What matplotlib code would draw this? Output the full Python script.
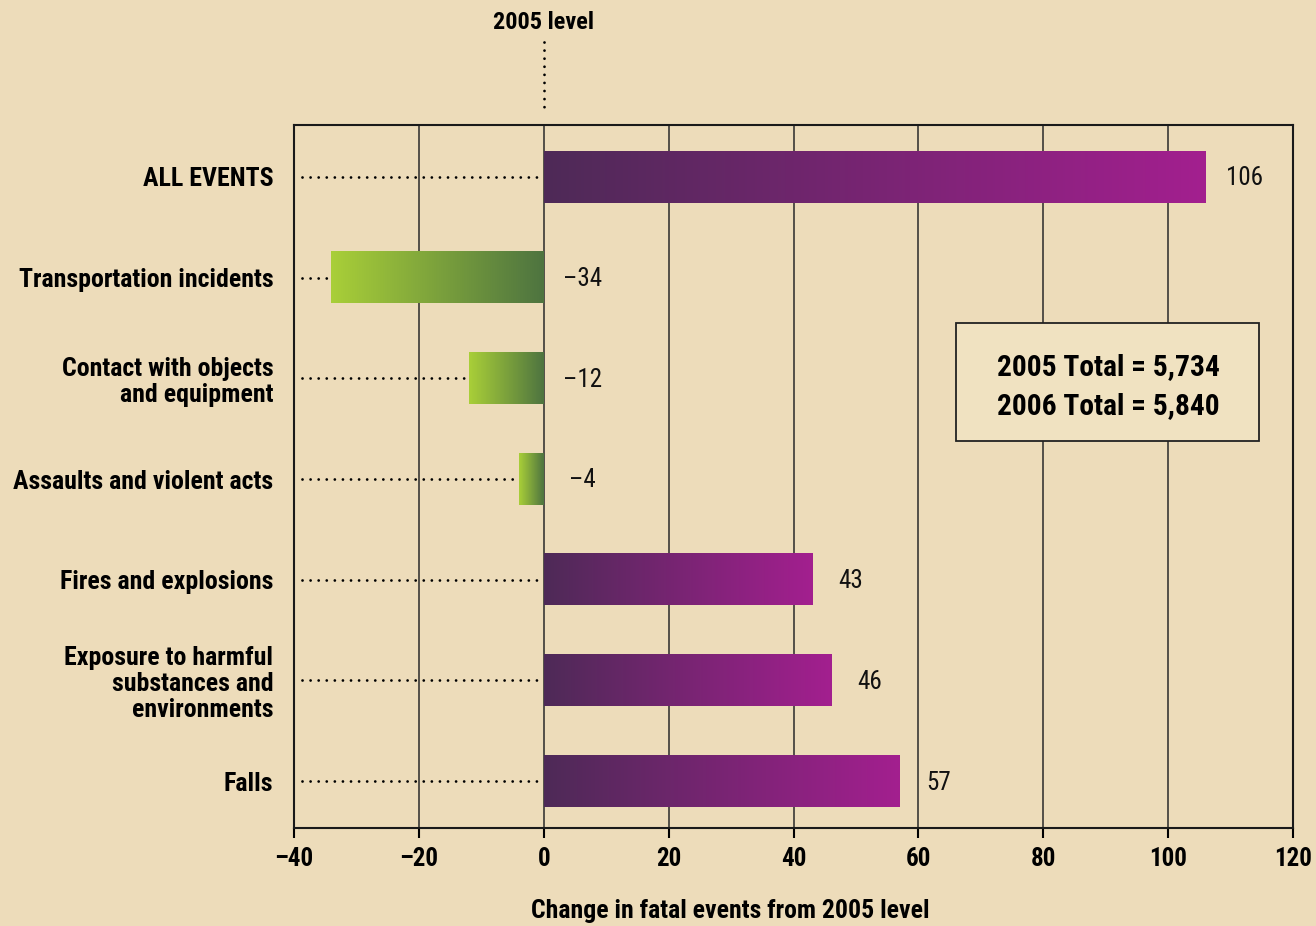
import os
import matplotlib
matplotlib.use("Agg")
import matplotlib.pyplot as plt
import numpy as np
from matplotlib.colors import LinearSegmentedColormap
from matplotlib import font_manager
from matplotlib.font_manager import FontProperties
from matplotlib.textpath import TextPath
from matplotlib.patches import Rectangle

categories = ["ALL EVENTS", "Transportation incidents", "Contact with objects\nand equipment",
              "Assaults and violent acts", "Fires and explosions",
              "Exposure to harmful\nsubstances and\nenvironments", "Falls"]
values = [106, -34, -12, -4, 43, 46, 57]
value_labels = ["106", "\u201334", "\u201312", "\u20134", "43", "46", "57"]
xticks = [-40, -20, 0, 20, 40, 60, 80, 100, 120]
xtick_labels = ["\u201340", "\u201320", "0", "20", "40", "60", "80", "100", "120"]
box_lines = ["2005 Total = 5,734", "2006 Total = 5,840"]
xlabel = "Change in fatal events from 2005 level"
level_label = "2005 level"


# ---- font selection: prefer a condensed/narrow sans ----
def pick_font(bold):
    prefs = ["Roboto", "Liberation", "DejaVuSans", "NotoSans", "OpenSans", ""]
    cands = []
    for f in font_manager.fontManager.ttflist:
        base = os.path.basename(f.fname)
        if not ("ondensed" in base or "Narrow" in base):
            continue
        if any(k in base for k in ("Italic", "Oblique", "Mono", "CJK", "Light", "Thin",
                                   "Black", "Extra", "Semi", "Medium")):
            continue
        isbold = "Bold" in base
        if isbold != bold:
            continue
        for rank, p in enumerate(prefs):
            if p in base.replace(" ", ""):
                cands.append((rank, base, f.fname))
                break
    if cands:
        cands.sort()
        return FontProperties(fname=cands[0][2])
    for fam in ["Liberation Sans", "Roboto", "DejaVu Sans"]:
        fp = FontProperties(family=fam, weight="bold" if bold else "normal")
        try:
            path = font_manager.findfont(fp, fallback_to_default=False)
            return FontProperties(fname=path)
        except Exception:
            pass
    return FontProperties(weight="bold" if bold else "normal")


FB = pick_font(True)
FR = pick_font(False)
DPI = 100


def fit(text, fp, target_px, nominal):
    w = TextPath((0, 0), text, size=20, prop=fp).get_extents().width
    px_per_pt = (w / 20.0) * DPI / 72.0
    return min(nominal, target_px / px_per_pt)


s_cat = fit("Transportation incidents", FB, 254, 19)
s_xl = fit(xlabel, FB, 395, 19)
s_tick = fit("\u201340", FB, 36, 19)
s_val = fit("106", FR, 35, 18)
s_box = fit(box_lines[0], FB, 221, 23)
s_lvl = fit(level_label, FB, 103, 17.5)


def fp(base, size):
    p = base.copy()
    p.set_size(size)
    return p


BG = "#EDDCBA"
purple = LinearSegmentedColormap.from_list("p", ["#4E2A57", "#A31F8F"])
green = LinearSegmentedColormap.from_list("g", ["#A9CF38", "#4E7440"])
DOT = (0, (0.01, 2.9))
DOT_LW = 2.0

fig = plt.figure(figsize=(13.16, 9.26), dpi=DPI, facecolor=BG)
ax = fig.add_axes([294/1316, 1-828/926, (1293-294)/1316, (828-125)/926])
ax.set_facecolor(BG)

for x in xticks:
    ax.axvline(x, color="#2a2a2a", lw=1.1, zorder=1)

h = 0.51
grad = np.linspace(0, 1, 256).reshape(1, -1)
for i, v in enumerate(values):
    x0, x1 = min(v, 0), max(v, 0)
    cmap = purple if v > 0 else green
    ax.imshow(grad, cmap=cmap, aspect='auto', extent=[x0, x1, i + h/2, i - h/2],
              interpolation='bicubic', zorder=3)
    ax.plot([-38.7, x0 - 0.7], [i, i], color="black", lw=DOT_LW,
            linestyle=DOT, dash_capstyle='round', zorder=2)
    ax.annotate(value_labels[i], (x1, i), xytext=(28, -1), textcoords='offset points',
                ha='center', va='center', fontproperties=fp(FR, s_val), color="#111111")

ax.set_xlim(-40, 120)
ax.set_ylim(6.465, -0.515)
ax.set_yticks(range(len(categories)))
ax.set_yticklabels(categories, fontproperties=fp(FB, s_cat), linespacing=1.1)
ax.tick_params(axis='y', length=0, pad=15)
ax.set_xticks(xticks)
ax.set_xticklabels(xtick_labels, fontproperties=fp(FB, s_tick))
ax.tick_params(axis='x', direction='out', length=7.5, width=1.5, pad=6)
for s in ax.spines.values():
    s.set_linewidth(1.5)
    s.set_color("#1a1a1a")

# 2005 level marker (above the axes)
tr = ax.get_xaxis_transform()
ax.plot([0, 0], [1 + 83/703, 1 + 12/703], transform=tr, color="black", lw=DOT_LW,
        linestyle=DOT, dash_capstyle='round', clip_on=False, zorder=2)
ax.text(0, 1 + 103/703, level_label, transform=tr, ha='center', va='center',
        fontproperties=fp(FB, s_lvl))

# Totals box
ax.add_patch(Rectangle((66.1, 1.45), 48.4, 1.17, fc="#F0E2C1", ec="#222222", lw=1.3,
                       zorder=5))
ax.text(90.4, 2.08, "\n".join(box_lines), ha='center', va='center',
        fontproperties=fp(FB, s_box), linespacing=1.5, zorder=6)

fig.text(730/1316, 1-911/926, xlabel, ha='center', va='center', fontproperties=fp(FB, s_xl))

fig.savefig("out.png", dpi=DPI, facecolor=BG)
